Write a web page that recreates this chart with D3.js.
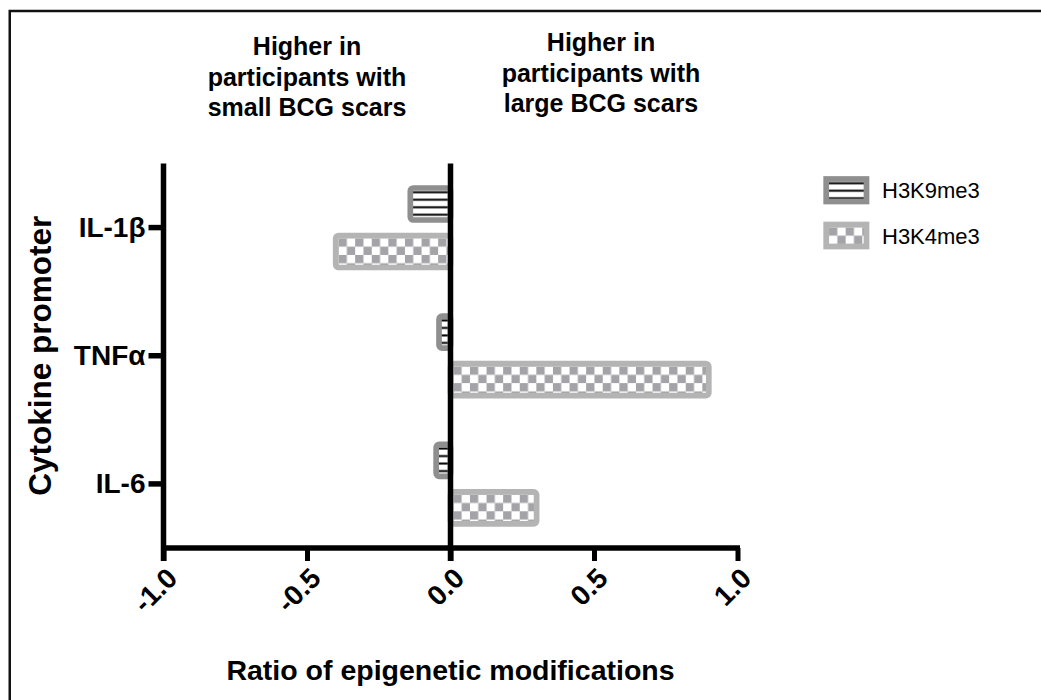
<!DOCTYPE html>
<html>
<head>
<meta charset="utf-8">
<script src="https://cdn.jsdelivr.net/npm/d3@7"></script>
<style>
  body { margin: 0; background: #fff; }
  svg { display: block; }
  text { font-family: "Liberation Sans", Arial, sans-serif; }
</style>
</head>
<body>
<svg id="chart" width="1041" height="700"></svg>
<script>
// ---- data ----
const categories = ["IL-1β", "TNFα", "IL-6"];
const seriesNames = ["H3K9me3", "H3K4me3"];
const h3k9me3 = [-0.14, -0.04, -0.05];
const h3k4me3 = [-0.40, 0.90, 0.30];
const xTicks = [-1.0, -0.5, 0.0, 0.5, 1.0];
const xTickLabels = ["-1.0", "-0.5", "0.0", "0.5", "1.0"];
const leftHeader = ["Higher in", "participants with", "small BCG scars"];
const rightHeader = ["Higher in", "participants with", "large BCG scars"];
const xTitle = "Ratio of epigenetic modifications";
const yTitle = "Cytokine promoter";

// ---- layout ----
const svg = d3.select("#chart");
const defs = svg.append("defs");

const x = d3.scaleLinear().domain([-1, 1]).range([163.5, 737.5]);
const y = d3.scaleBand().domain(categories).range([163.5, 548]).padding(0);
const sub = d3.scaleBand().domain(seriesNames).range([24.5, 104]).paddingInner(0.326);

const barStroke = 5.7;
const seriesStyle = {
  "H3K9me3": { stroke: "#8f8f8f", kind: "lines" },
  "H3K4me3": { stroke: "#b4b4b4", kind: "checker" }
};

// fill pattern anchored at the inner top-left of a rectangle
function makePattern(id, kind, ox, oy) {
  if (kind === "lines") {
    const p = defs.append("pattern").attr("id", id)
      .attr("patternUnits", "userSpaceOnUse")
      .attr("x", ox).attr("y", oy).attr("width", 10).attr("height", 7.5);
    p.append("rect").attr("width", 10).attr("height", 7.5).attr("fill", "#fff");
    p.append("rect").attr("y", 0.4).attr("width", 10).attr("height", 2).attr("fill", "#000");
  } else {
    const s = 8.3;
    const p = defs.append("pattern").attr("id", id)
      .attr("patternUnits", "userSpaceOnUse")
      .attr("x", ox).attr("y", oy).attr("width", 2 * s).attr("height", 2 * s);
    p.append("rect").attr("width", 2 * s).attr("height", 2 * s).attr("fill", "#fff");
    p.append("rect").attr("width", s).attr("height", s).attr("fill", "#a3a3a8");
    p.append("rect").attr("x", s).attr("y", s).attr("width", s).attr("height", s).attr("fill", "#a3a3a8");
  }
  return `url(#${id})`;
}

// ---- bars ----
const rows = [];
categories.forEach((c, i) => {
  rows.push({ cat: c, series: "H3K9me3", value: h3k9me3[i] });
  rows.push({ cat: c, series: "H3K4me3", value: h3k4me3[i] });
});

const barG = svg.append("g");
rows.forEach((d, i) => {
  const x0 = Math.min(x(0), x(d.value));
  const w = Math.abs(x(d.value) - x(0));
  const yy = y(d.cat) + sub(d.series);
  const st = seriesStyle[d.series];
  const fill = makePattern("pat" + i, st.kind, x0 + barStroke / 2, yy + barStroke / 2);
  barG.append("rect")
    .attr("x", x0).attr("y", yy)
    .attr("width", w).attr("height", sub.bandwidth())
    .attr("rx", 3).attr("ry", 3)
    .attr("fill", fill)
    .attr("stroke", st.stroke)
    .attr("stroke-width", barStroke);
});

// ---- zero line ----
svg.append("line")
  .attr("x1", x(0)).attr("x2", x(0))
  .attr("y1", 163.5).attr("y2", 561)
  .attr("stroke", "#000").attr("stroke-width", 5.5);

// ---- x axis ----
const xAxis = d3.axisBottom(x).tickValues(xTicks)
  .tickFormat((d, i) => xTickLabels[i]).tickSizeInner(13).tickSizeOuter(0);
const gx = svg.append("g").attr("transform", "translate(0,548)").call(xAxis);
gx.select(".domain").attr("stroke", "#000").attr("stroke-width", 5.5)
  .attr("d", `M${x(-1) - 2.5},0H${x(1) + 2.5}`);
gx.selectAll(".tick line").attr("stroke", "#000").attr("stroke-width", 5);
gx.selectAll(".tick text")
  .attr("fill", "#000").attr("font-size", 28).attr("font-weight", "bold")
  .attr("text-anchor", "end").attr("y", 0).attr("dy", "0.35em")
  .attr("transform", "translate(8,25) rotate(-45)");

// ---- y axis ----
const yAxis = d3.axisLeft(y).tickSizeInner(15).tickSizeOuter(0).tickPadding(3);
const gy = svg.append("g").attr("transform", `translate(${x(-1)},0)`).call(yAxis);
gy.select(".domain").attr("stroke", "#000").attr("stroke-width", 5.5)
  .attr("d", "M0,163.5V561");
gy.selectAll(".tick line").attr("stroke", "#000").attr("stroke-width", 5.5);
gy.selectAll(".tick text")
  .attr("fill", "#000").attr("font-size", 28).attr("font-weight", "bold");

// ---- axis titles ----
svg.append("text")
  .attr("x", x(0)).attr("y", 680)
  .attr("text-anchor", "middle").attr("font-size", 28.5).attr("font-weight", "bold")
  .text(xTitle);
svg.append("text")
  .attr("transform", `translate(51,${(y.range()[0] + y.range()[1]) / 2}) rotate(-90)`)
  .attr("text-anchor", "middle").attr("font-size", 31.5).attr("font-weight", "bold")
  .text(yTitle);

// ---- headers ----
function header(lines, cx, y0) {
  const t = svg.append("text").attr("text-anchor", "middle")
    .attr("font-size", 25).attr("font-weight", "bold");
  lines.forEach((s, i) => t.append("tspan").attr("x", cx).attr("y", y0 + i * 30.5).text(s));
}
header(leftHeader, 307, 55);
header(rightHeader, 601, 51);

// ---- legend ----
const legend = svg.append("g");
const legendRows = [
  { name: seriesNames[0], y: 179, h: 22.5 },
  { name: seriesNames[1], y: 224.5, h: 22 }
];
legendRows.forEach((r, i) => {
  const st = seriesStyle[r.name];
  const fill = makePattern("legpat" + i, st.kind, 826.2 + barStroke / 2, r.y + barStroke / 2);
  legend.append("rect")
    .attr("x", 826.2).attr("y", r.y).attr("width", 40.3).attr("height", r.h)
    .attr("fill", fill).attr("stroke", st.stroke).attr("stroke-width", barStroke);
  legend.append("text")
    .attr("x", 882).attr("y", r.y + r.h / 2 + 8)
    .attr("font-size", 22).attr("fill", "#000")
    .text(r.name);
});

// ---- frame ----
svg.append("path")
  .attr("d", "M9.75,700V11H1041")
  .attr("fill", "none").attr("stroke", "#111").attr("stroke-width", 2.5);
</script>
</body>
</html>
